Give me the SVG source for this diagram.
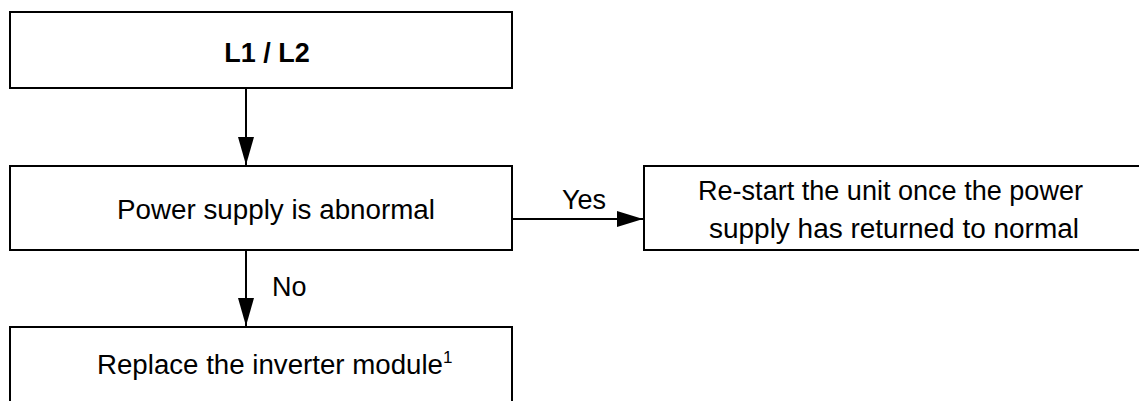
<svg xmlns="http://www.w3.org/2000/svg" width="1139" height="401" viewBox="0 0 1139 401">
<style>
.box{fill:#fff;stroke:#000;stroke-width:2}
.t{font-family:"Liberation Sans",Arial,sans-serif;font-size:27px;fill:#000}
.b{font-weight:bold}
.ln{stroke:#000;stroke-width:2;fill:none}
</style>
<defs>
<marker id="ah" markerWidth="28" markerHeight="16" refX="28" refY="8" orient="auto" markerUnits="userSpaceOnUse">
<path d="M0,0 L28,8 L0,16 Z" fill="#000"/>
</marker>
<marker id="ahh" markerWidth="26" markerHeight="16" refX="26" refY="8" orient="auto" markerUnits="userSpaceOnUse">
<path d="M0,0 L26,8 L0,16 Z" fill="#000"/>
</marker>
</defs>
<rect width="1139" height="401" fill="#fff"/>
<g id="connectors">
<line class="ln" x1="246" y1="89" x2="246" y2="165" marker-end="url(#ah)"/>
<line class="ln" x1="246" y1="251" x2="246" y2="326" marker-end="url(#ah)"/>
<line class="ln" x1="513" y1="219" x2="643" y2="219" marker-end="url(#ahh)"/>
<text class="t" x="562" y="209">Yes</text>
<text class="t" x="272" y="296">No</text>
</g>
<g id="n1">
<rect class="box" x="10" y="12" width="502" height="76"/>
<text class="t b" x="267" y="62" text-anchor="middle">L1 / L2</text>
</g>
<g id="n2">
<rect class="box" x="10" y="166" width="502" height="84"/>
<text class="t" x="117" y="219" textLength="318" lengthAdjust="spacingAndGlyphs">Power supply is abnormal</text>
</g>
<g id="n3">
<rect class="box" x="644" y="166" width="520" height="84"/>
<text class="t" x="698" y="200" textLength="385" lengthAdjust="spacingAndGlyphs">Re-start the unit once the power</text>
<text class="t" x="709" y="238" textLength="370" lengthAdjust="spacingAndGlyphs">supply has returned to normal</text>
</g>
<g id="n4">
<rect class="box" x="10" y="327" width="502" height="100"/>
<text class="t" x="97" y="374"><tspan textLength="346" lengthAdjust="spacingAndGlyphs">Replace the inverter module</tspan><tspan font-size="17" dy="-11">1</tspan></text>
</g>
</svg>
